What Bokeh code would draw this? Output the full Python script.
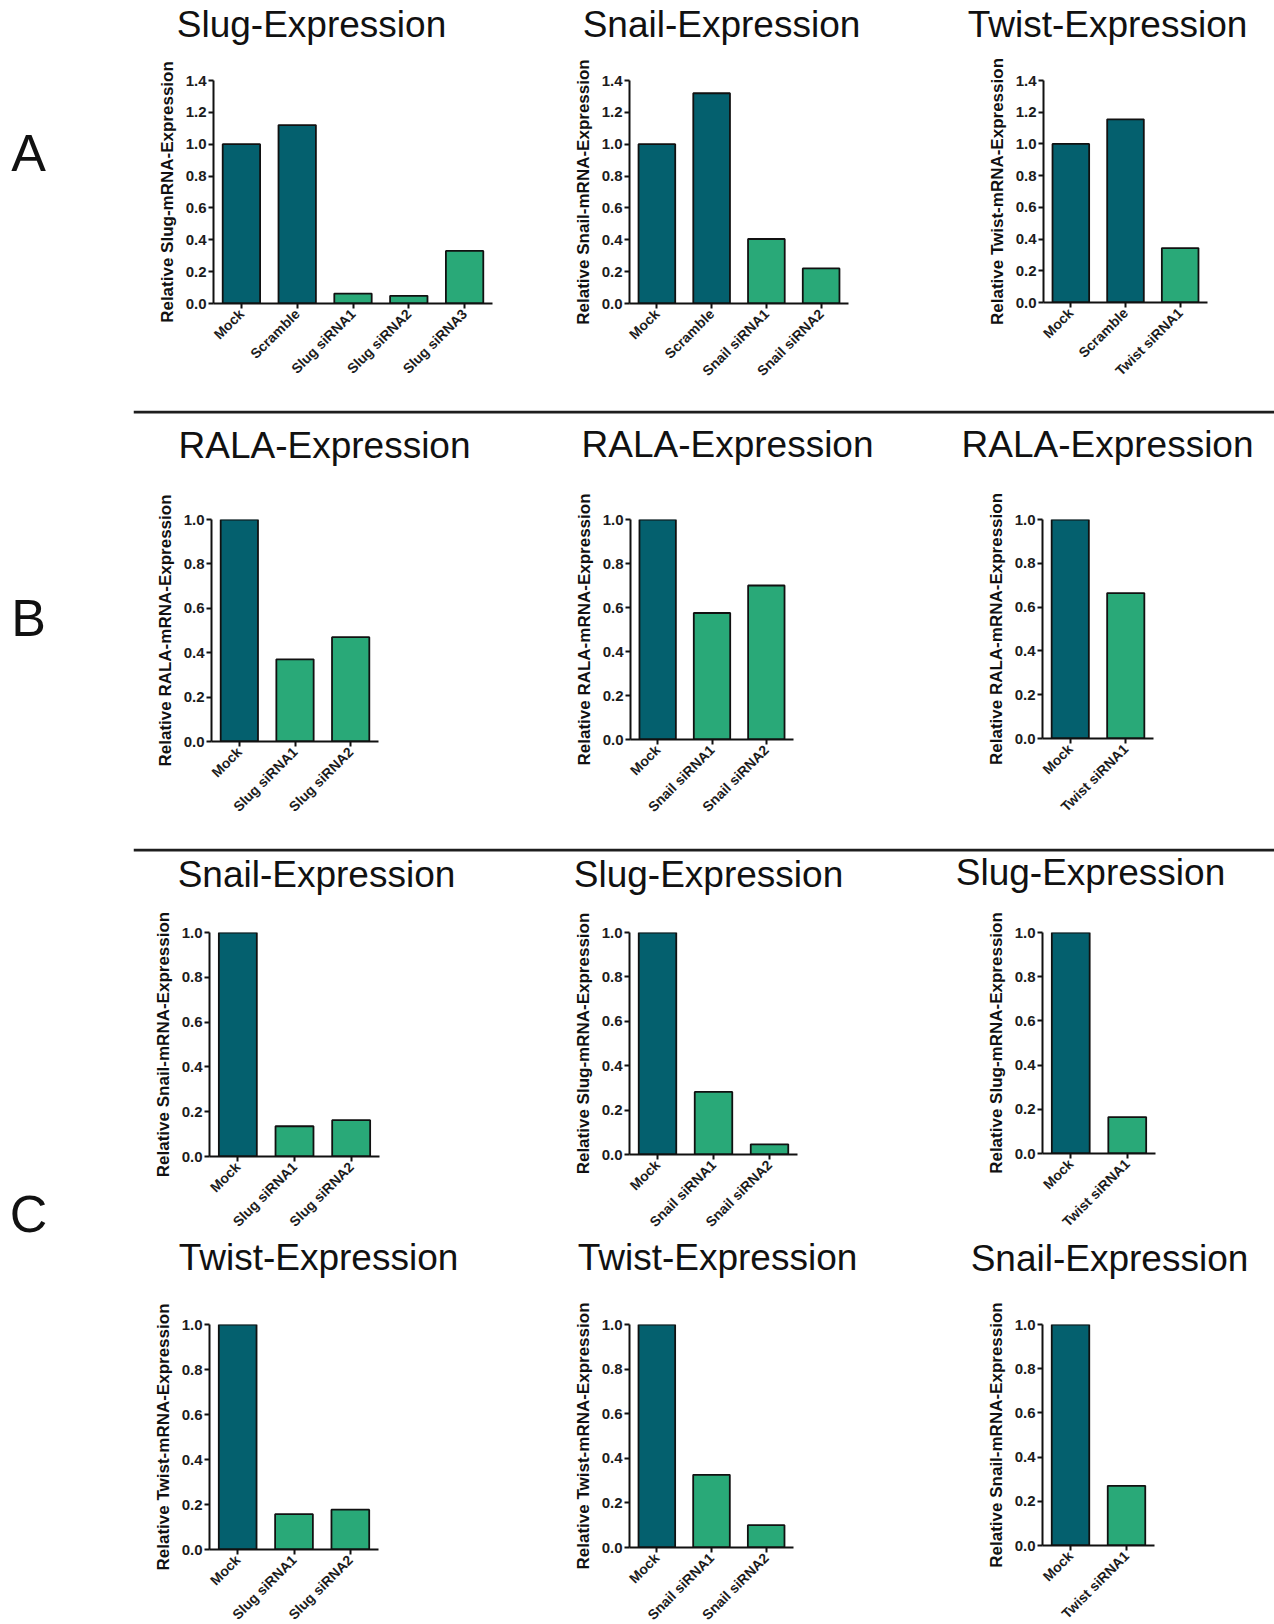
import math
from bokeh.plotting import figure
from bokeh.models import (Range1d, FactorRange, FixedTicker, PrintfTickFormatter,
                          Label, ColumnDataSource, BoxAnnotation)
from bokeh.layouts import row, column
from bokeh.embed import file_html
from bokeh.resources import INLINE

# ---------------- data ----------------
A1_title = "Slug-Expression"
A1_ylabel = "Relative Slug-mRNA-Expression"
A1_cats = ["Mock", "Scramble", "Slug siRNA1", "Slug siRNA2", "Slug siRNA3"]
A1_vals = [1.0, 1.12, 0.062, 0.048, 0.33]

A2_title = "Snail-Expression"
A2_ylabel = "Relative Snail-mRNA-Expression"
A2_cats = ["Mock", "Scramble", "Snail siRNA1", "Snail siRNA2"]
A2_vals = [1.0, 1.32, 0.405, 0.22]

A3_title = "Twist-Expression"
A3_ylabel = "Relative Twist-mRNA-Expression"
A3_cats = ["Mock", "Scramble", "Twist siRNA1"]
A3_vals = [1.0, 1.155, 0.343]

B1_title = "RALA-Expression"
B1_ylabel = "Relative RALA-mRNA-Expression"
B1_cats = ["Mock", "Slug siRNA1", "Slug siRNA2"]
B1_vals = [1.0, 0.37, 0.47]

B2_title = "RALA-Expression"
B2_ylabel = "Relative RALA-mRNA-Expression"
B2_cats = ["Mock", "Snail siRNA1", "Snail siRNA2"]
B2_vals = [1.0, 0.575, 0.70]

B3_title = "RALA-Expression"
B3_ylabel = "Relative RALA-mRNA-Expression"
B3_cats = ["Mock", "Twist siRNA1"]
B3_vals = [1.0, 0.664]

C1_title = "Snail-Expression"
C1_ylabel = "Relative Snail-mRNA-Expression"
C1_cats = ["Mock", "Slug siRNA1", "Slug siRNA2"]
C1_vals = [1.0, 0.135, 0.162]

C2_title = "Slug-Expression"
C2_ylabel = "Relative Slug-mRNA-Expression"
C2_cats = ["Mock", "Snail siRNA1", "Snail siRNA2"]
C2_vals = [1.0, 0.282, 0.046]

C3_title = "Slug-Expression"
C3_ylabel = "Relative Slug-mRNA-Expression"
C3_cats = ["Mock", "Twist siRNA1"]
C3_vals = [1.0, 0.165]

C4_title = "Twist-Expression"
C4_ylabel = "Relative Twist-mRNA-Expression"
C4_cats = ["Mock", "Slug siRNA1", "Slug siRNA2"]
C4_vals = [1.0, 0.157, 0.177]

C5_title = "Twist-Expression"
C5_ylabel = "Relative Twist-mRNA-Expression"
C5_cats = ["Mock", "Snail siRNA1", "Snail siRNA2"]
C5_vals = [1.0, 0.326, 0.10]

C6_title = "Snail-Expression"
C6_ylabel = "Relative Snail-mRNA-Expression"
C6_cats = ["Mock", "Twist siRNA1"]
C6_vals = [1.0, 0.27]

Y_TICKS_A = [0.0, 0.2, 0.4, 0.6, 0.8, 1.0, 1.2, 1.4]
Y_TICKS_BC = [0.0, 0.2, 0.4, 0.6, 0.8, 1.0]
PANEL_LETTERS = ["A", "B", "C"]

# ---------------- style / layout ----------------
FONT = "Liberation Sans"
DARK = "#04606e"
GREEN = "#29a978"
INK = "#111111"
SEP_COLOR = "#1e1e1e"
LEFT_W = 133
COL_W = [427, 390, 324]
TOTAL_H = 1624
TITLE_SHIFT = 13  # label baseline correction

COMMON = dict(output_backend="svg", toolbar_location=None, tools="", title_location=None,
              background_fill_color="white", border_fill_color="white")


def bar_color(cat):
    return GREEN if "siRNA" in cat else DARK


def panel(cats, vals, ticks, ylabel, col_w, row_h, fl, ft, fw, fh):
    p = figure(x_range=FactorRange(*cats), y_range=Range1d(0, ticks[-1]),
               frame_width=fw, frame_height=fh,
               min_border_left=fl, min_border_top=ft,
               min_border_right=col_w - fl - fw, min_border_bottom=row_h - ft - fh,
               **COMMON)
    src = ColumnDataSource(dict(cat=cats, val=vals, color=[bar_color(c) for c in cats]))
    p.vbar(x="cat", top="val", width=0.67, source=src, fill_color="color",
           line_color=INK, line_width=1.8)
    p.xgrid.visible = False
    p.ygrid.visible = False
    p.outline_line_color = None
    for ax in (p.xaxis[0], p.yaxis[0]):
        ax.axis_line_width = 2
        ax.axis_line_color = INK
        ax.major_tick_line_width = 2
        ax.major_tick_line_color = INK
        ax.major_tick_in = 0
        ax.major_tick_out = 5
        ax.minor_tick_line_color = None
        ax.major_label_text_font = FONT
        ax.major_label_text_font_style = "bold"
        ax.major_label_text_color = "#1c1c1c"
    p.yaxis.ticker = FixedTicker(ticks=ticks)
    p.yaxis.formatter = PrintfTickFormatter(format="%.1f")
    p.yaxis.major_label_text_font_size = "15px"
    p.yaxis.major_label_standoff = 2
    p.yaxis.axis_label = ylabel
    p.yaxis.axis_label_text_font = FONT
    p.yaxis.axis_label_text_font_size = "17px"
    p.yaxis.axis_label_text_font_style = "bold"
    p.yaxis.axis_label_text_color = INK
    p.yaxis.axis_label_standoff = 6
    p.xaxis.major_label_orientation = math.pi / 4
    p.xaxis.major_label_text_font_size = "14px"
    p.xaxis.major_label_standoff = 3
    return p


def strip(y0, y1, titles, centers, baselines, separator=False):
    s = figure(width=sum(COL_W), height=y1 - y0, x_range=Range1d(LEFT_W, LEFT_W + sum(COL_W)),
               y_range=Range1d(y1, y0), min_border=0, x_axis_location=None,
               y_axis_location=None, **COMMON)
    s.outline_line_color = None
    s.grid.visible = False
    if separator:
        s.add_layout(BoxAnnotation(left=LEFT_W, right=LEFT_W + sum(COL_W), top=y0, bottom=y0 + 3,
                                   fill_color=SEP_COLOR, fill_alpha=1.0, line_color=None))
    for t, cx, by in zip(titles, centers, baselines):
        s.add_layout(Label(x=cx, y=by - TITLE_SHIFT, text=t, text_font=FONT,
                           text_font_size="37px", text_align="center",
                           text_baseline="alphabetic", text_color=INK))
    return s


# row A: strip 0-56, panels 56-410 (frame top 80)
sA = strip(0, 56, [A1_title, A2_title, A3_title], [311, 721, 1107], [37, 37, 37])
pA1 = panel(A1_cats, A1_vals, Y_TICKS_A, A1_ylabel, COL_W[0], 354, 80, 24, 279, 223)
pA2 = panel(A2_cats, A2_vals, Y_TICKS_A, A2_ylabel, COL_W[1], 354, 69, 24, 219, 223)
pA3 = panel(A3_cats, A3_vals, Y_TICKS_A, A3_ylabel, COL_W[2], 354, 93, 24, 164, 222)

# row B: strip 410-476 (separator on top), panels 476-848 (frame top 519)
sB = strip(410, 476, [B1_title, B2_title, B3_title], [324, 727, 1107], [458, 457, 457], True)
pB1 = panel(B1_cats, B1_vals, Y_TICKS_BC, B1_ylabel, COL_W[0], 372, 78, 43, 167, 222)
pB2 = panel(B2_cats, B2_vals, Y_TICKS_BC, B2_ylabel, COL_W[1], 372, 70, 43, 163, 220)
pB3 = panel(B3_cats, B3_vals, Y_TICKS_BC, B3_ylabel, COL_W[2], 372, 92, 43, 111, 219)

# row C1: strip 848-905 (separator on top), panels 905-1236 (frame top 932)
sC1 = strip(848, 905, [C1_title, C2_title, C3_title], [316, 708, 1090], [887, 887, 885], True)
pC1 = panel(C1_cats, C1_vals, Y_TICKS_BC, C1_ylabel, COL_W[0], 331, 76, 27, 170, 224)
pC2 = panel(C2_cats, C2_vals, Y_TICKS_BC, C2_ylabel, COL_W[1], 331, 69, 27, 168, 222)
pC3 = panel(C3_cats, C3_vals, Y_TICKS_BC, C3_ylabel, COL_W[2], 331, 92, 27, 113, 221)

# row C2: strip 1236-1285, panels 1285-1624 (frame top ~1323)
sC2 = strip(1236, 1285, [C4_title, C5_title, C6_title], [318, 717, 1109], [1268, 1268, 1269])
pC4 = panel(C4_cats, C4_vals, Y_TICKS_BC, C4_ylabel, COL_W[0], 339, 76, 37, 169, 225)
pC5 = panel(C5_cats, C5_vals, Y_TICKS_BC, C5_ylabel, COL_W[1], 339, 69, 37, 164, 223)
pC6 = panel(C6_cats, C6_vals, Y_TICKS_BC, C6_ylabel, COL_W[2], 339, 92, 37, 112, 221)

# left column with panel letters
lab = figure(width=LEFT_W, height=TOTAL_H, x_range=Range1d(0, LEFT_W),
             y_range=Range1d(TOTAL_H, 0), min_border=0,
             x_axis_location=None, y_axis_location=None, **COMMON)
lab.grid.visible = False
lab.outline_line_color = None
for letter, ypos in zip(PANEL_LETTERS, [152, 617, 1213]):
    lab.add_layout(Label(x=28, y=ypos, text=letter, text_align="center", text_baseline="middle",
                         text_font=FONT, text_font_size="52px", text_color=INK))

grid = column(sA, row(pA1, pA2, pA3),
              sB, row(pB1, pB2, pB3),
              sC1, row(pC1, pC2, pC3),
              sC2, row(pC4, pC5, pC6))
layout = row(lab, grid)

open("out.html", "w").write(file_html(layout, INLINE))
